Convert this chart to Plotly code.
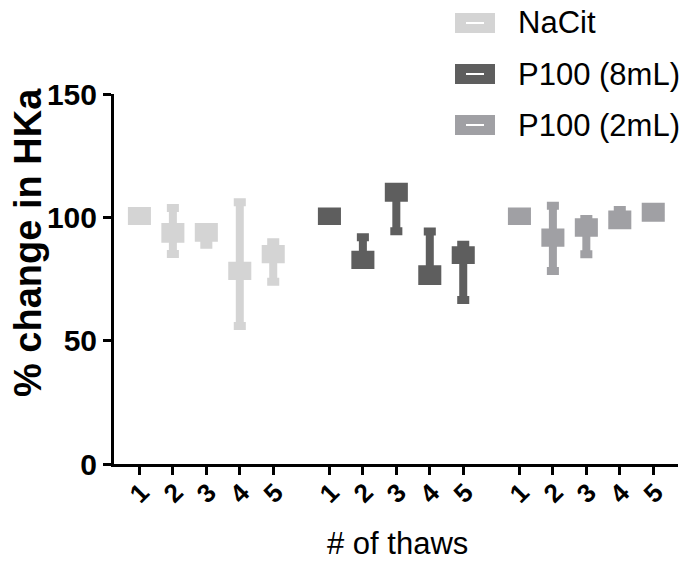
import plotly.graph_objects as go

# Thaw number labels repeated for each storage group
thaw_labels = ["1", "2", "3", "4", "5"]
groups = ["NaCit", "P100 (8mL)", "P100 (2mL)"]
colors = ["#d4d4d4", "#5e5e5e", "#a0a0a4"]

# Summary statistics (% change in HKa) per group, thaws 1..5
nacit_lower = [98.5, 85.1, 88.9, 55.9, 73.9]
nacit_q1 = [98.5, 91.3, 91.7, 76.2, 83.0]
nacit_median = [100.5, 93.7, 93.9, 78.3, 85.1]
nacit_q3 = [102.6, 96.1, 96.1, 80.4, 87.2]
nacit_upper = [102.6, 103.8, 96.1, 106.1, 89.9]

p8_lower = [98.5, 80.7, 94.4, 74.2, 66.5]
p8_q1 = [98.5, 80.7, 107.9, 74.2, 82.7]
p8_median = [100.5, 82.8, 110.2, 76.6, 84.7]
p8_q3 = [102.4, 84.8, 112.4, 79.0, 86.7]
p8_upper = [102.4, 91.9, 112.4, 94.3, 88.9]

p2_lower = [98.5, 78.2, 85.0, 96.8, 99.8]
p2_q1 = [98.5, 89.7, 93.8, 96.8, 99.8]
p2_median = [100.5, 91.8, 95.9, 99.0, 102.0]
p2_q3 = [102.4, 93.9, 98.0, 101.1, 104.3]
p2_upper = [102.4, 104.7, 99.3, 103.0, 104.3]

stats = [
    (nacit_lower, nacit_q1, nacit_median, nacit_q3, nacit_upper),
    (p8_lower, p8_q1, p8_median, p8_q3, p8_upper),
    (p2_lower, p2_q1, p2_median, p2_q3, p2_upper),
]

group_step = 5.68  # slot offset between groups (5 boxes + gap)

# Page geometry (pixels)
W, H = 682, 561
ML, MR, MT, MB = 114, 4, 94, 97
PW, PH = W - ML - MR, H - MT - MB

FONT = "Liberation Sans, Arial, sans-serif"

fig = go.Figure()
tickvals, ticktext = [], []
for g, (name, col, st) in enumerate(zip(groups, colors, stats)):
    xs = [g * group_step + i for i in range(len(thaw_labels))]
    tickvals += xs
    ticktext += thaw_labels
    lo, q1, med, q3, hi = st
    fig.add_trace(go.Box(
        name=name,
        x=xs,
        lowerfence=lo, q1=q1, median=med, q3=q3, upperfence=hi,
        fillcolor=col,
        line=dict(color=col, width=8),
        width=0.45,
        whiskerwidth=0.8,
        boxpoints=False,
        hoverinfo="skip",
        showlegend=False,
    ))


def px_x(p):
    return (p - ML) / PW


def px_y(p):
    return (MT + PH - p) / PH


# Legend drawn as box icons with a white median stroke
shapes = []
annotations = []
for i, (name, col) in enumerate(zip(groups, colors)):
    top = 13 + i * 51
    shapes.append(dict(type="rect", xref="paper", yref="paper",
                       x0=px_x(455), x1=px_x(495), y0=px_y(top + 20), y1=px_y(top),
                       fillcolor=col, line=dict(width=0)))
    shapes.append(dict(type="line", xref="paper", yref="paper",
                       x0=px_x(466), x1=px_x(484), y0=px_y(top + 10), y1=px_y(top + 10),
                       line=dict(color="white", width=2)))
    annotations.append(dict(text=name, xref="paper", yref="paper",
                            x=px_x(516), y=px_y(top + 10), xanchor="left", yanchor="middle",
                            showarrow=False, font=dict(family=FONT, size=31, color="black")))

# Rotated thaw-number labels centred under each tick
for xv, label in zip(tickvals, ticktext):
    annotations.append(dict(text=label, xref="x", yref="paper",
                            x=xv, y=px_y(493), xanchor="center", yanchor="middle",
                            textangle=-45, showarrow=False,
                            font=dict(family=FONT, size=26, color="black", weight="bold")))

annotations.append(dict(text="% change in HKa", xref="paper", yref="paper",
                        x=px_x(28), y=px_y(243), xanchor="center", yanchor="middle",
                        textangle=-90, showarrow=False,
                        font=dict(family=FONT, size=38, color="black", weight="bold")))
annotations.append(dict(text="# of thaws", xref="paper", yref="paper",
                        x=px_x(397), y=px_y(543), xanchor="center", yanchor="middle",
                        showarrow=False, font=dict(family=FONT, size=31, color="black")))

fig.update_layout(
    width=W, height=H,
    margin=dict(l=ML, r=MR, t=MT, b=MB, pad=0),
    paper_bgcolor="white", plot_bgcolor="white",
    boxmode="overlay",
    showlegend=False,
    shapes=shapes,
    annotations=annotations,
    xaxis=dict(
        range=[-0.76, 16.1],
        tickmode="array", tickvals=tickvals, ticktext=ticktext,
        showticklabels=False,
        showline=True, linecolor="black", linewidth=3,
        ticks="outside", ticklen=8, tickwidth=3, tickcolor="black",
        showgrid=False, zeroline=False,
    ),
    yaxis=dict(
        range=[0, 150],
        tickvals=[0, 50, 100, 150],
        showline=True, linecolor="black", linewidth=3,
        ticks="outside", ticklen=8, tickwidth=3, tickcolor="black",
        showgrid=False, zeroline=False,
        tickfont=dict(family=FONT, size=30, color="black", weight="bold"),
    ),
)

fig.write_html("out.html")
